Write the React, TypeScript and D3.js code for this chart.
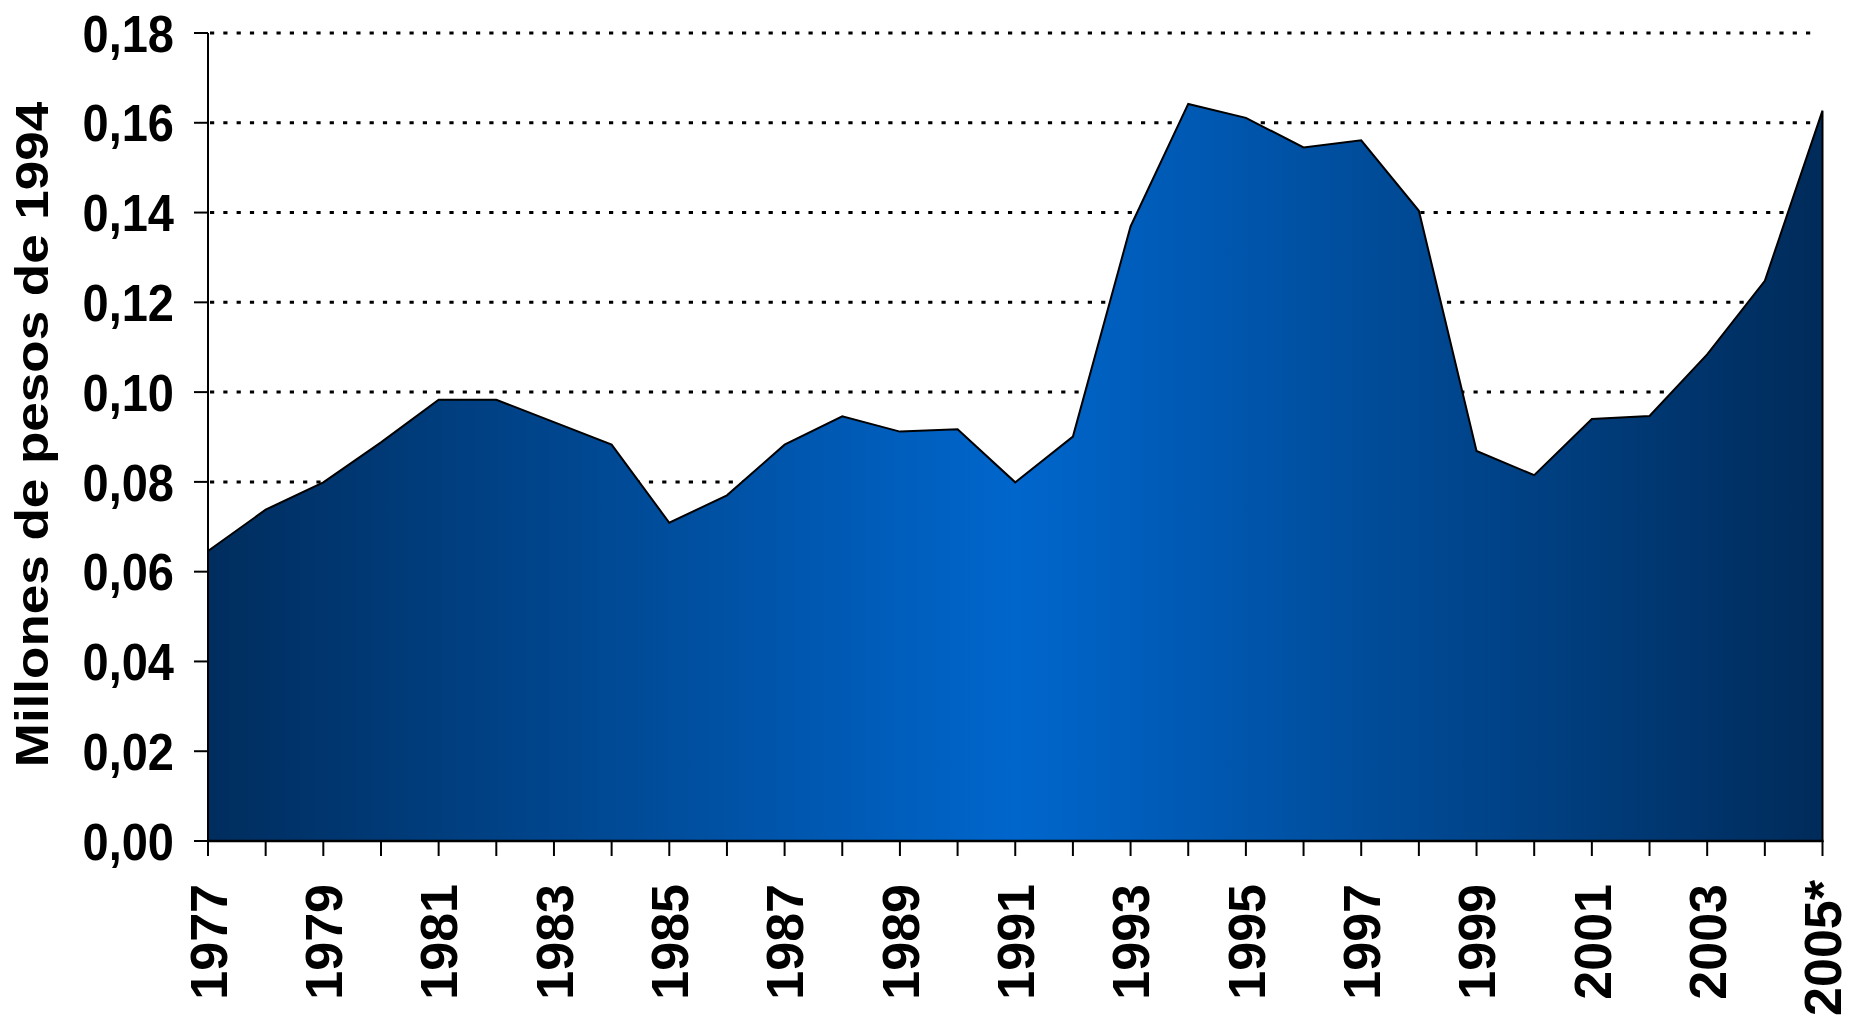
import React from "react";
import * as d3 from "d3";

const years = [1977,1978,1979,1980,1981,1982,1983,1984,1985,1986,1987,1988,1989,1990,1991,1992,1993,1994,1995,1996,1997,1998,1999,2000,2001,2002,2003,2004,2005];
const values = [0.0646,0.0738,0.0799,0.0888,0.0983,0.0983,0.0933,0.0883,0.0709,0.0770,0.0883,0.0946,0.0912,0.0917,0.0799,0.0901,0.1369,0.1642,0.1611,0.1545,0.1561,0.1404,0.0869,0.0815,0.0940,0.0947,0.1084,0.1248,0.1627];
const yTicks = [0,0.02,0.04,0.06,0.08,0.10,0.12,0.14,0.16,0.18];
const gridTicks = [0.02,0.04,0.06,0.08,0.10,0.12,0.14,0.16,0.18];
const labelYears = [1977,1979,1981,1983,1985,1987,1989,1991,1993,1995,1997,1999,2001,2003,2005];
const yTitle = "Millones de pesos de 1994";

const W = 1850, H = 1017;
const X0 = 208, X1 = 1822.5, Y0 = 841, Y1 = 33;

export default function App() {
  const x = d3.scaleLinear().domain([1977, 2005]).range([X0, X1]);
  const y = d3.scaleLinear().domain([0, 0.18]).range([Y0, Y1]);
  const data = years.map((yr, i) => ({ yr, v: values[i] }));
  const area = d3.area<{ yr: number; v: number }>().x(d => x(d.yr)).y0(Y0).y1(d => y(d.v))(data) || "";
  const font = "'Liberation Sans', Arial, sans-serif";
  const fmt = (v: number) => v.toFixed(2).replace(".", ",");
  const lbl = (yr: number) => (yr === 2005 ? "2005*" : String(yr));
  return (
    <svg width={W} height={H} style={{ position: "absolute", left: 0, top: 0, display: "block", background: "#fff" }}>
      <defs>
        <linearGradient id="g" x1={X0} x2={X1} y1="0" y2="0" gradientUnits="userSpaceOnUse">
          <stop offset="0" stopColor="#002d5e" />
          <stop offset="0.5" stopColor="#0066cc" />
          <stop offset="1" stopColor="#002b5a" />
        </linearGradient>
      </defs>
      {gridTicks.map(t => (
        <line key={t} x1={X0 + 2} x2={1815} y1={y(t)} y2={y(t)} stroke="#000" strokeWidth={3} strokeDasharray="4.2 9.1" />
      ))}
      <path d={area} fill="url(#g)" stroke="#000" strokeWidth={2} strokeLinejoin="miter" />
      <line x1={X0} x2={X0} y1={Y1} y2={Y0} stroke="#000" strokeWidth={2} />
      <line x1={X0 - 1} x2={X1 + 1} y1={Y0} y2={Y0} stroke="#000" strokeWidth={2.6} />
      {yTicks.map(t => (
        <line key={"yt" + t} x1={194} x2={X0} y1={y(t)} y2={y(t)} stroke="#000" strokeWidth={2} />
      ))}
      {years.map(yr => (
        <line key={"xt" + yr} x1={x(yr)} x2={x(yr)} y1={Y0} y2={856} stroke="#000" strokeWidth={2} />
      ))}
      {yTicks.map(t => (
        <text key={"yl" + t} transform={`translate(174,${y(t)}) scale(1,1.1)`} textAnchor="end" dy="0.36em"
          fontFamily={font} fontWeight="bold" fontSize={47} fill="#000">{fmt(t)}</text>
      ))}
      {labelYears.map(yr => (
        <text key={"xl" + yr} transform={`translate(${x(yr)},${yr === 2005 ? 880 : 884}) rotate(-90)`} textAnchor="end" dy="0.36em"
          fontFamily={font} fontWeight="bold" fontSize={52} fill="#000">{lbl(yr)}</text>
      ))}
      <text transform={`translate(31.5,434.5) rotate(-90) scale(1,0.87)`} textAnchor="middle" dy="0.36em"
        fontFamily={font} fontWeight="bold" fontSize={53} fill="#000">{yTitle}</text>
    </svg>
  );
}
